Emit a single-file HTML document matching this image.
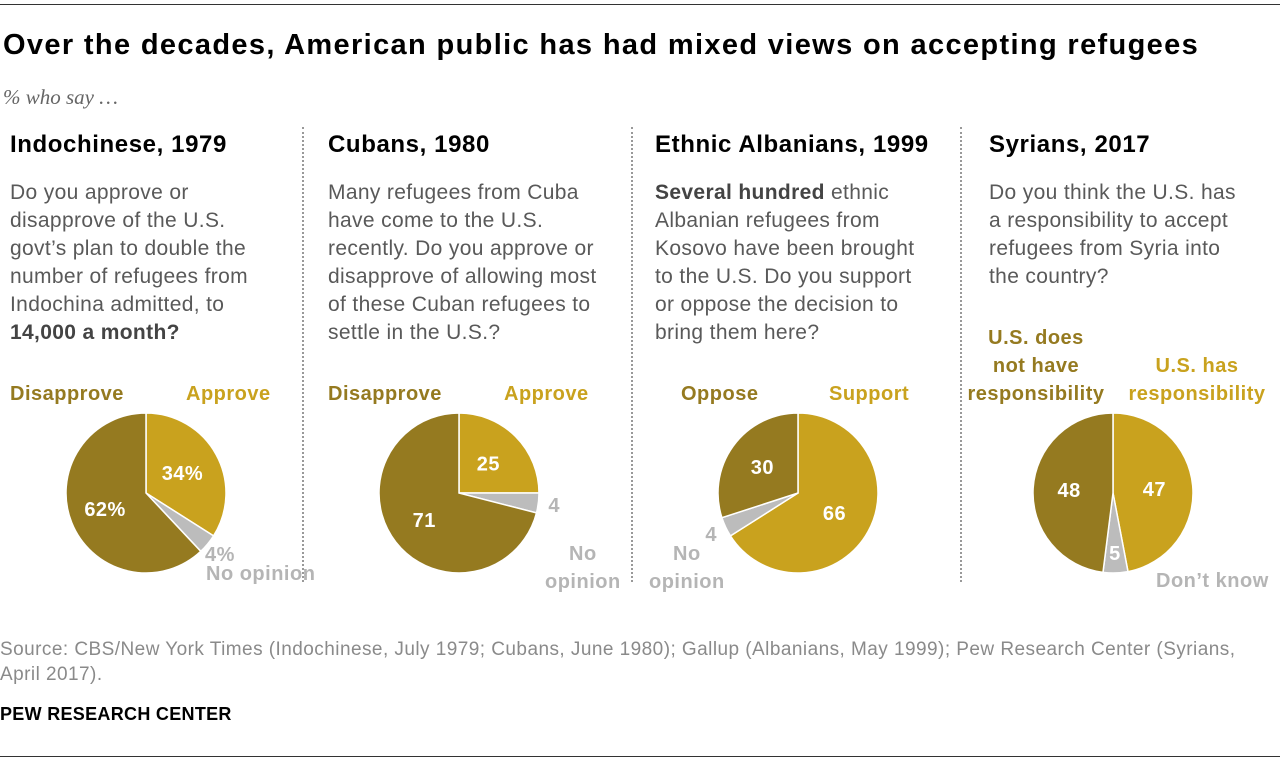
<!DOCTYPE html>
<html><head><meta charset="utf-8"><style>
body{margin:0;width:1280px;height:762px;background:#fff;font-family:"Liberation Sans",sans-serif;position:relative;overflow:hidden}
.a{position:absolute;white-space:nowrap}
.h{font-weight:bold;font-size:24px;letter-spacing:0.6px;color:#000;top:131px}
.q{font-size:21px;letter-spacing:0.35px;line-height:28px;color:#595959;top:179px}
.lab{font-weight:bold;font-size:20px;letter-spacing:0.5px;line-height:28px}
.d{color:#957a20}.g{color:#c9a21e}.n{color:#b5b5b5}
.div{position:absolute;top:127px;height:455px;border-left:2px dotted #999}
</style></head><body>
<div class="a" style="left:0;top:4px;width:1280px;border-top:1px solid #333"></div>
<div class="a" style="left:3px;top:29px;font-size:29px;letter-spacing:1.35px;font-weight:bold">Over the decades, American public has had mixed views on accepting refugees</div>
<div class="a" style="left:3px;top:85px;font-size:21px;font-style:italic;font-family:'Liberation Serif',serif;color:#666">% who say …</div>
<div class="div" style="left:302px"></div>
<div class="div" style="left:631px"></div>
<div class="div" style="left:960px"></div>

<div class="a h" style="left:10px">Indochinese, 1979</div>
<div class="a h" style="left:328px">Cubans, 1980</div>
<div class="a h" style="left:655px">Ethnic Albanians, 1999</div>
<div class="a h" style="left:989px">Syrians, 2017</div>

<div class="a q" style="left:10px">Do you approve or<br>disapprove of the U.S.<br>govt’s plan to double the<br>number of refugees from<br>Indochina admitted, to<br><b style="color:#444">14,000 a month?</b></div>
<div class="a q" style="left:328px">Many refugees from Cuba<br>have come to the U.S.<br>recently. Do you approve or<br>disapprove of allowing most<br>of these Cuban refugees to<br>settle in the U.S.?</div>
<div class="a q" style="left:655px"><b style="color:#444">Several hundred</b> ethnic<br>Albanian refugees from<br>Kosovo have been brought<br>to the U.S. Do you support<br>or oppose the decision to<br>bring them here?</div>
<div class="a q" style="left:989px">Do you think the U.S. has<br>a responsibility to accept<br>refugees from Syria into<br>the country?</div>

<div class="a lab d" style="left:10px;top:380px">Disapprove</div>
<div class="a lab g" style="left:186px;top:380px">Approve</div>
<div class="a lab d" style="left:328px;top:380px">Disapprove</div>
<div class="a lab g" style="left:504px;top:380px">Approve</div>
<div class="a lab d" style="left:681px;top:380px">Oppose</div>
<div class="a lab g" style="left:829px;top:380px">Support</div>
<div class="a lab d" style="left:960px;top:324px;text-align:center;width:152px;white-space:normal">U.S. does<br>not have<br>responsibility</div>
<div class="a lab g" style="left:1121px;top:352px;text-align:center;width:152px;white-space:normal">U.S. has<br>responsibility</div>

<div class="a lab n" style="left:206px;top:560px">No opinion</div>
<div class="a lab n" style="left:545px;top:540px;text-align:center">No<br>opinion</div>
<div class="a lab n" style="left:649px;top:540px;text-align:center">No<br>opinion</div>
<div class="a lab n" style="left:1156px;top:567px">Don’t know</div>

<svg id="pies" width="1280" height="762" style="position:absolute;left:0;top:0"></svg>

<div class="a" style="left:0;top:637px;font-size:19px;letter-spacing:0.45px;line-height:25px;color:#8a8a8a">Source: CBS/New York Times (Indochinese, July 1979; Cubans, June 1980); Gallup (Albanians, May 1999); Pew Research Center (Syrians,<br>April 2017).</div>
<div class="a" style="left:0;top:704px;font-size:18px;letter-spacing:0.3px;font-weight:bold">PEW RESEARCH CENTER</div>
<div class="a" style="left:0;top:756px;width:1280px;border-top:1px solid #333"></div>

<script>
const pieNames = ["indochinese","cubans","albanians","syrians"];
const firstValues = [34,25,66,47];
const grayValues = [4,4,4,5];
const restValues = [62,71,30,48];
const firstLabels = ["34%","25","66","47"];
const grayLabels = ["4%","4","4","5"];
const restLabels = ["62%","71","30","48"];
const centersX = [146,459,798,1113];
const cy = 493, R = 80;
const NS = "http://www.w3.org/2000/svg";
const svg = document.getElementById("pies");
function pt(cx, frac, r){const a = frac*2*Math.PI; return [cx + r*Math.sin(a), cy - r*Math.cos(a)];}
function slice(cx, f0, f1, color, name){
  const p = document.createElementNS(NS,"path");
  const [x0,y0] = pt(cx,f0,R), [x1,y1] = pt(cx,f1,R);
  const large = (f1-f0) > 0.5 ? 1 : 0;
  p.setAttribute("d",`M${cx},${cy} L${x0},${y0} A${R},${R} 0 ${large} 1 ${x1},${y1} Z`);
  p.setAttribute("fill",color); p.setAttribute("stroke","#fff"); p.setAttribute("stroke-width","1.5");
  
  
  svg.appendChild(p);
}
function txt(x,y,s,color,name){
  const t = document.createElementNS(NS,"text");
  t.setAttribute("x",x); t.setAttribute("y",y); t.setAttribute("fill",color);
  t.setAttribute("font-family","Liberation Sans, sans-serif"); t.setAttribute("font-weight","bold");
  t.setAttribute("font-size","20"); t.setAttribute("letter-spacing","0.5"); t.setAttribute("text-anchor","middle");
  t.textContent = s;
  
  
  svg.appendChild(t);
}
pieNames.forEach((nm,i)=>{
  const tot = firstValues[i]+grayValues[i]+restValues[i];
  const a = firstValues[i]/tot, b = (firstValues[i]+grayValues[i])/tot;
  const cx = centersX[i];
  slice(cx,0,a,"#c9a21e","slice-first-"+nm);
  slice(cx,a,b,"#bcbcbc","slice-gray-"+nm);
  slice(cx,b,1,"#957a20","slice-rest-"+nm);
  let [x,y] = pt(cx,a/2,R*0.52); txt(x,y+7,firstLabels[i],"#fff","value-first-"+nm);
  [x,y] = pt(cx,(b+1)/2,R*0.55); txt(x,y+7,restLabels[i],"#fff","value-rest-"+nm);
  const gm = (a+b)/2;
  if(i===3){ [x,y] = pt(cx,gm,R*0.75); txt(x,y+7,grayLabels[i],"#fff","value-gray-"+nm); }
  else { [x,y] = pt(cx,gm,R+16); txt(x,y+7,grayLabels[i],"#b5b5b5","value-gray-"+nm); }
});
</script>
</body></html>
